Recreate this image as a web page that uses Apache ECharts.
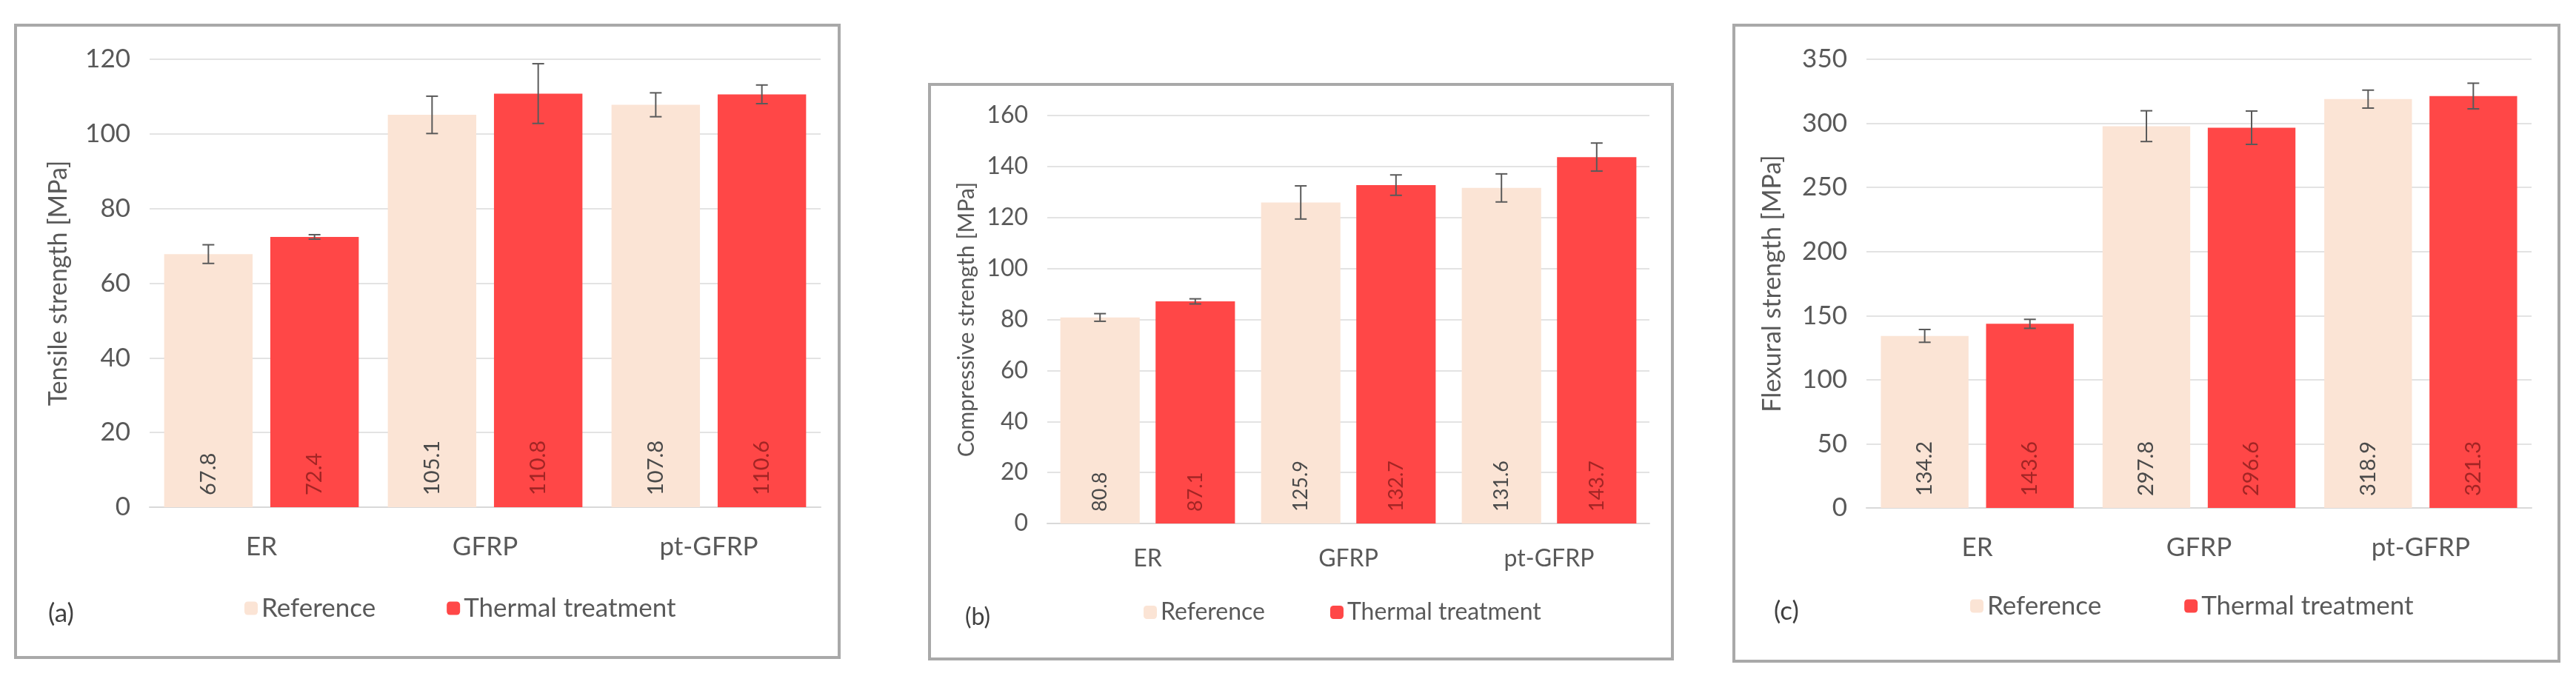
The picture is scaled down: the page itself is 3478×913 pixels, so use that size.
<!DOCTYPE html>
<html>
<head>
<meta charset="utf-8">
<script src="https://cdn.jsdelivr.net/npm/echarts@6/dist/echarts.min.js"></script>
<style>
  html, body { margin: 0; padding: 0; background: #fff; width: 3478px; height: 913px; overflow: hidden; }
  .panel { position: absolute; box-sizing: border-box; border: 4px solid #a9a9a9; background: #fff; }
</style>
</head>
<body>
<div id="chart_a" class="panel" style="left:19px;top:32px;width:1116px;height:858px;"></div>
<div id="chart_b" class="panel" style="left:1253px;top:112px;width:1007px;height:780px;"></div>
<div id="chart_c" class="panel" style="left:2339px;top:32px;width:1118px;height:863px;"></div>
<script>
// ====== data ======
var categories = ['ER', 'GFRP', 'pt-GFRP'];
var seriesNames = ['Reference', 'Thermal treatment'];

var tensileRef = [67.8, 105.1, 107.8];
var tensileRefErr = [2.5, 5.0, 3.2];
var tensileThermal = [72.4, 110.8, 110.6];
var tensileThermalErr = [0.6, 8.0, 2.5];

var compRef = [80.8, 125.9, 131.6];
var compRefErr = [1.5, 6.5, 5.5];
var compThermal = [87.1, 132.7, 143.7];
var compThermalErr = [1.0, 4.0, 5.5];

var flexRef = [134.2, 297.8, 318.9];
var flexRefErr = [5.0, 12.0, 7.0];
var flexThermal = [143.6, 296.6, 321.3];
var flexThermalErr = [3.5, 13.0, 10.0];

var tensileTicks = {max: 120, interval: 20};
var compTicks = {max: 160, interval: 20};
var flexTicks = {max: 350, interval: 50};

// ====== style ======
var FONT = 'Lato';
var refColor = '#fbe4d5';
var thermalColor = '#ff4747';
var textColor = '#595959';
var catGap = 0.13, barGapRatio = 0.2;

function errorSeries(values, errs, side) {
    return {
        type: 'custom',
        silent: true,
        z: 5,
        data: values.map(function (v, i) { return [i, v, errs[i]]; }),
        renderItem: function (params, api) {
            var i = api.value(0), v = api.value(1), e = api.value(2);
            var catW = api.size([1, 0])[0];
            var w = catW * (1 - catGap) / (2 + barGapRatio);
            var off = side * w * (0.5 + barGapRatio / 2);
            var hi = api.coord([i, v + e]);
            var lo = api.coord([i, v - e]);
            var x = hi[0] + off;
            var cap = 8;
            var st = {stroke: '#5a5a5a', lineWidth: 2};
            return {
                type: 'group',
                children: [
                    {type: 'line', shape: {x1: x, y1: hi[1], x2: x, y2: lo[1]}, style: st},
                    {type: 'line', shape: {x1: x - cap, y1: hi[1], x2: x + cap, y2: hi[1]}, style: st},
                    {type: 'line', shape: {x1: x - cap, y1: lo[1], x2: x + cap, y2: lo[1]}, style: st}
                ]
            };
        }
    };
}

function makePanel(id, cfg) {
    var myChart = echarts.init(document.getElementById(id));
    var labelBase = {
        show: true,
        position: 'insideBottom',
        rotate: 90,
        align: 'left',
        verticalAlign: 'middle',
        distance: 16,
        fontFamily: FONT,
        fontSize: cfg.labelSize,
        formatter: function (p) { return p.value.toFixed(1); }
    };
    var option = {
        animation: false,
        textStyle: {fontFamily: FONT},
        grid: cfg.grid,
        legend: {
            data: seriesNames,
            left: cfg.legendLeft,
            bottom: cfg.legendBottom,
            itemWidth: 18,
            itemHeight: 18,
            itemGap: cfg.legendGap,
            textStyle: {fontFamily: FONT, fontSize: cfg.fontSize, color: textColor}
        },
        graphic: [{
            type: 'text',
            left: cfg.tagLeft,
            bottom: cfg.legendBottom - 2,
            style: {text: cfg.tag, font: cfg.fontSize + 'px ' + FONT, fill: '#404040'}
        }],
        xAxis: {
            type: 'category',
            data: categories,
            axisLine: {show: true, lineStyle: {color: '#d9d9d9', width: 2}},
            axisTick: {show: false},
            axisLabel: {color: textColor, fontSize: cfg.fontSize, margin: cfg.catMargin, fontFamily: FONT}
        },
        yAxis: {
            type: 'value',
            min: 0,
            max: cfg.ticks.max,
            interval: cfg.ticks.interval,
            name: cfg.yName,
            nameLocation: 'middle',
            nameGap: cfg.nameGap,
            nameTextStyle: {color: textColor, fontSize: cfg.nameSize, fontFamily: FONT},
            axisLine: {show: false},
            axisTick: {show: false},
            axisLabel: {color: textColor, fontSize: cfg.fontSize, margin: 26, fontFamily: FONT},
            splitLine: {lineStyle: {color: '#e3e3e3', width: 2}}
        },
        series: [
            {
                name: seriesNames[0],
                type: 'bar',
                barGap: (barGapRatio * 100) + '%',
                barCategoryGap: (catGap * 100) + '%',
                itemStyle: {color: refColor},
                label: Object.assign({}, labelBase, {color: '#4a4a4a'}),
                data: cfg.ref
            },
            {
                name: seriesNames[1],
                type: 'bar',
                itemStyle: {color: thermalColor},
                label: Object.assign({}, labelBase, {color: '#a32525'}),
                data: cfg.thermal
            },
            errorSeries(cfg.ref, cfg.refErr, -1),
            errorSeries(cfg.thermal, cfg.thermalErr, 1)
        ]
    };
    myChart.setOption(option);
}

makePanel('chart_a', {
    ref: tensileRef, refErr: tensileRefErr, thermal: tensileThermal, thermalErr: tensileThermalErr,
    ticks: tensileTicks, yName: 'Tensile strength [MPa]', tag: '(a)',
    grid: {left: 179, right: 23, top: 44, bottom: 201},
    fontSize: 35, nameSize: 34, labelSize: 29, nameGap: 106, catMargin: 36,
    legendLeft: 302, legendBottom: 42, legendGap: 96, tagLeft: 42
});

makePanel('chart_b', {
    ref: compRef, refErr: compRefErr, thermal: compThermal, thermalErr: compThermalErr,
    ticks: compTicks, yName: 'Compressive strength [MPa]', tag: '(b)',
    grid: {left: 157, right: 29, top: 40, bottom: 181},
    fontSize: 32, nameSize: 30, labelSize: 27, nameGap: 94, catMargin: 32,
    legendLeft: 282, legendBottom: 40, legendGap: 88, tagLeft: 46
});

makePanel('chart_c', {
    ref: flexRef, refErr: flexRefErr, thermal: flexThermal, thermalErr: flexThermalErr,
    ticks: flexTicks, yName: 'Flexural strength [MPa]', tag: '(c)',
    grid: {left: 177, right: 35, top: 44, bottom: 205},
    fontSize: 35, nameSize: 34, labelSize: 29, nameGap: 110, catMargin: 36,
    legendLeft: 312, legendBottom: 50, legendGap: 112, tagLeft: 52
});
</script>
</body>
</html>
